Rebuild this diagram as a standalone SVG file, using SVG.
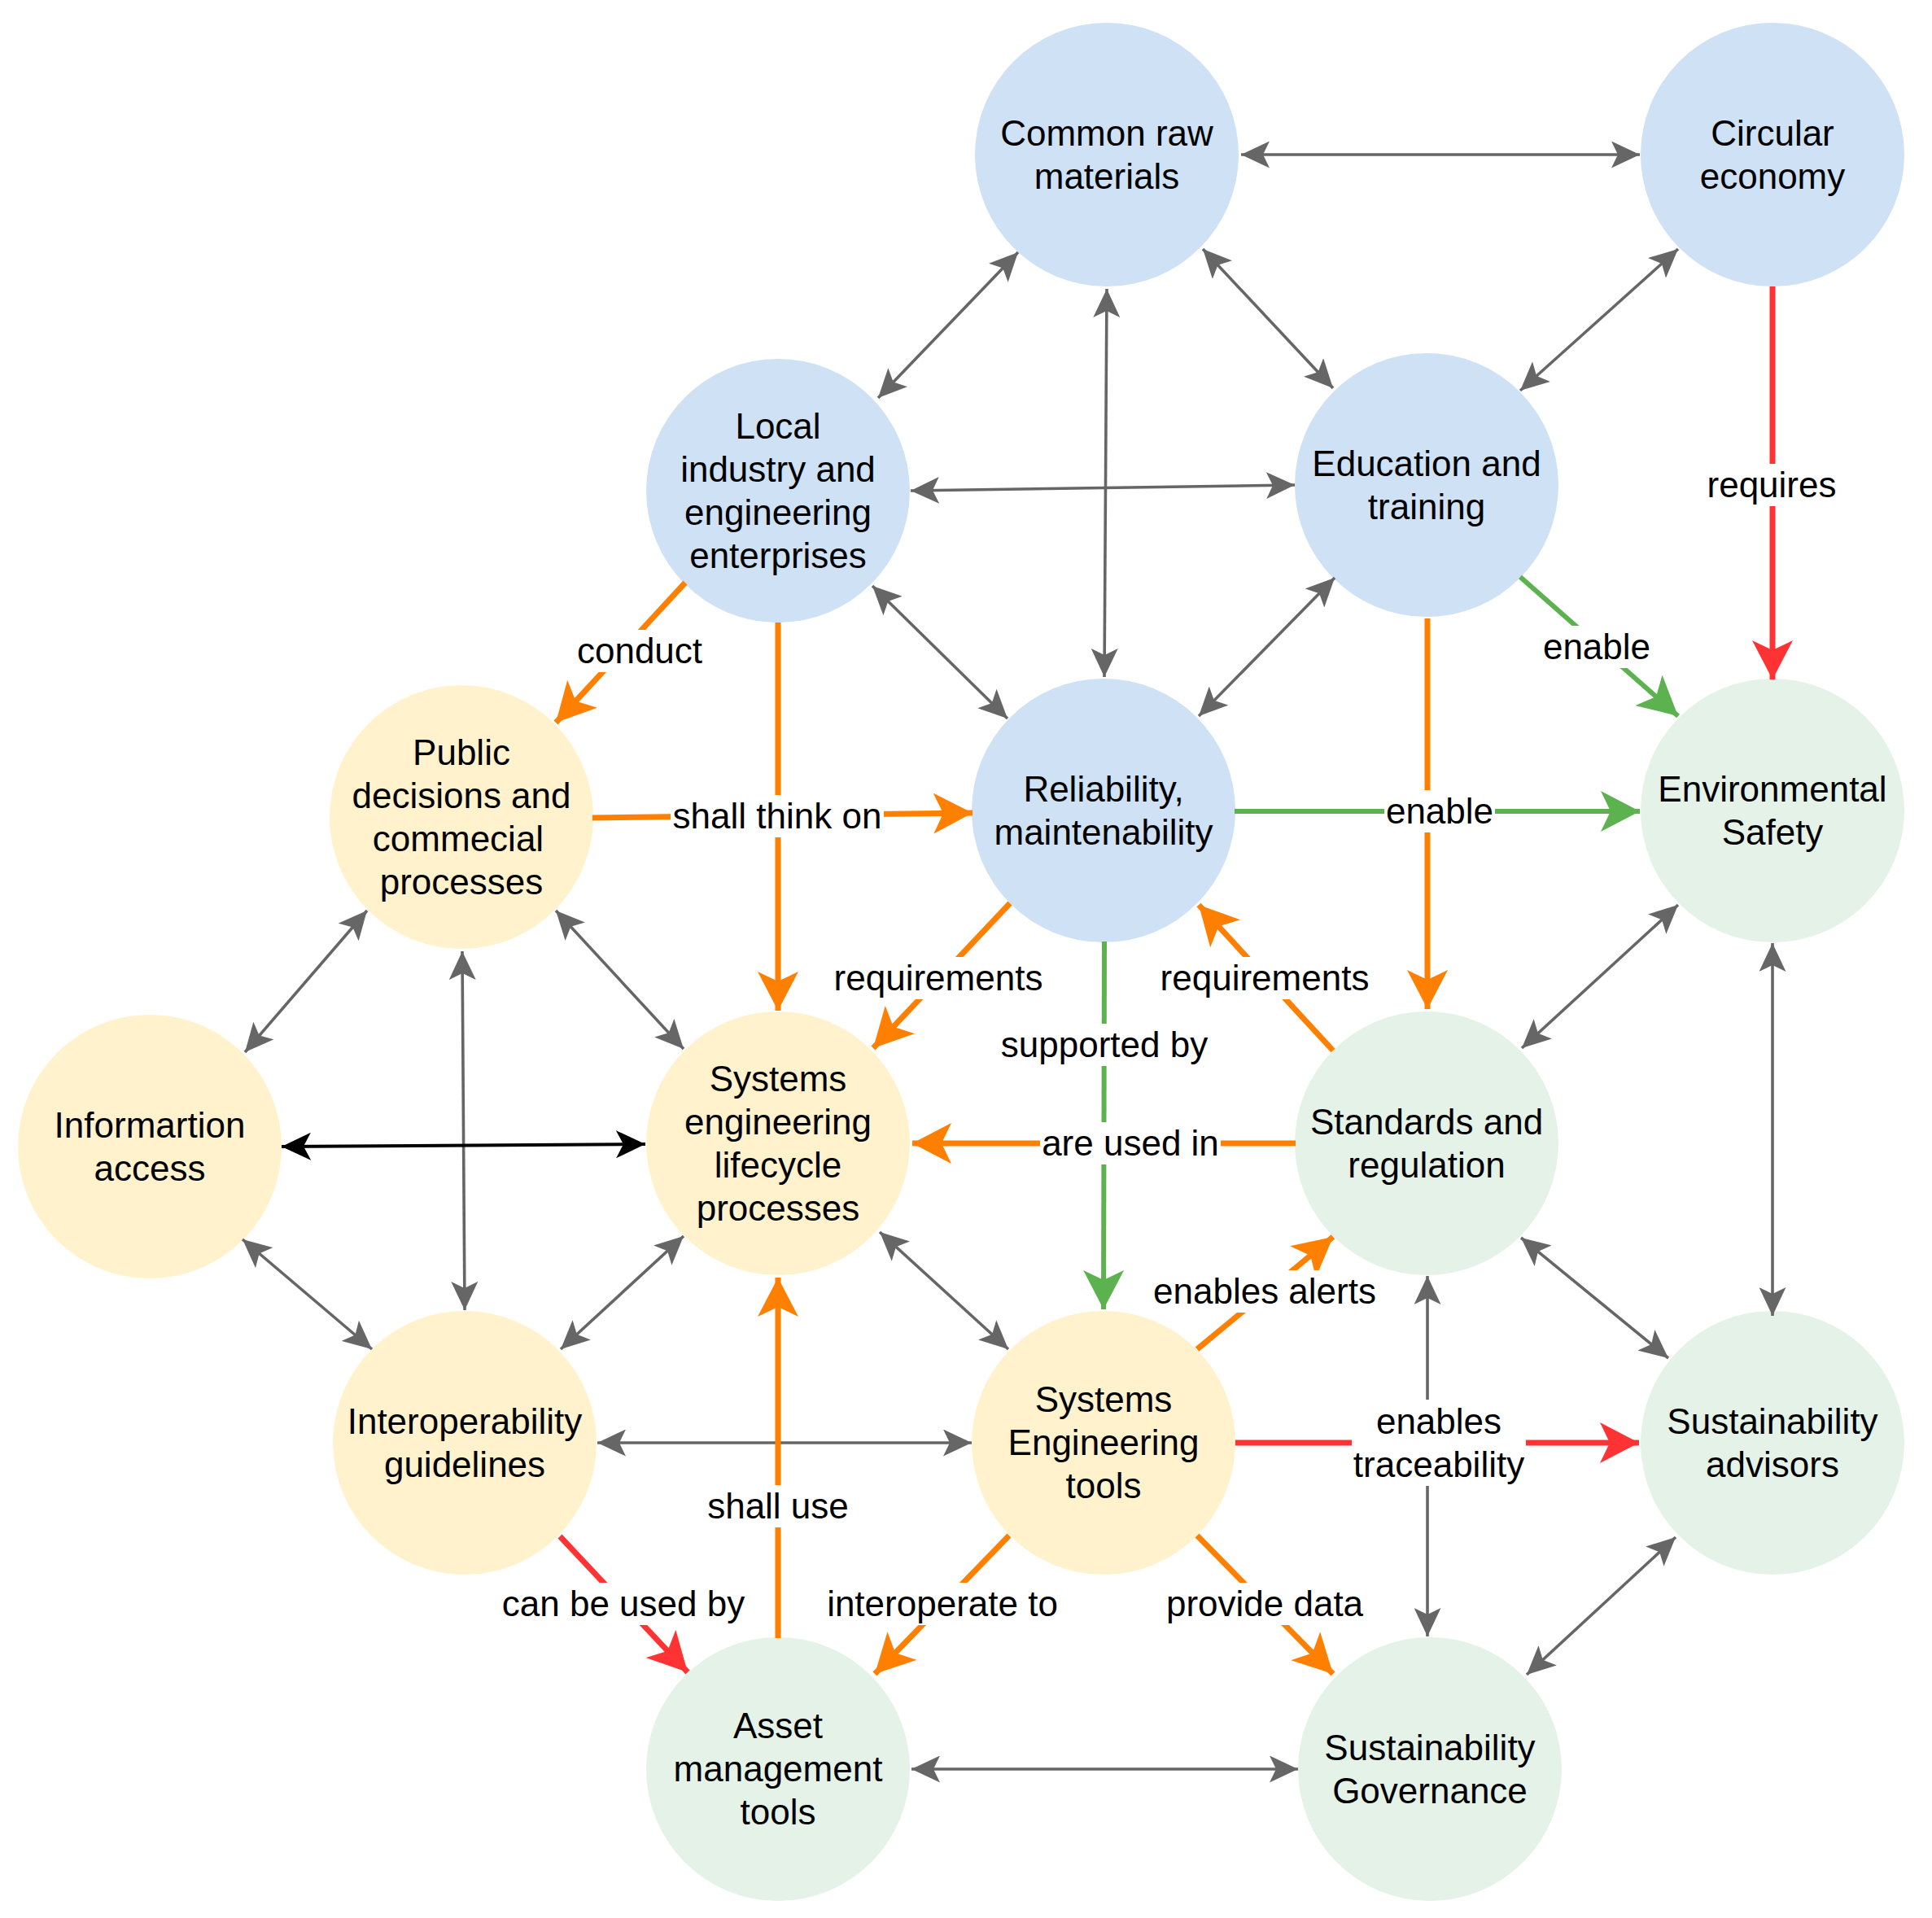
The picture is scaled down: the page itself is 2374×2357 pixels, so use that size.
<svg xmlns="http://www.w3.org/2000/svg" width="2374" height="2357" viewBox="0 0 2374 2357">
<style>
.blue{fill:#cfe1f5}
.yel{fill:#fff2cc}
.grn{fill:#e5f2e7}
text{font-family:"Liberation Sans",Arial,sans-serif;font-size:44px;fill:#000;text-anchor:middle}
.g{stroke:#666666;stroke-width:3.6;fill:none;marker-start:url(#ag);marker-end:url(#ag)}
.k{stroke:#000000;stroke-width:4;fill:none;marker-start:url(#ak);marker-end:url(#ak)}
.o{stroke:#ff8000;stroke-width:7;fill:none;marker-end:url(#ao)}
.r{stroke:#ff3333;stroke-width:7;fill:none;marker-end:url(#ar)}
.gr{stroke:#5db250;stroke-width:6;fill:none;marker-end:url(#agr)}
.lb{fill:#ffffff}
</style>
<defs>
<marker id="ag" viewBox="0 0 35 33" refX="35" refY="16.5" markerWidth="35" markerHeight="33" markerUnits="userSpaceOnUse" orient="auto-start-reverse"><path d="M0,0 L35,16.5 L0,33 L8,16.5 Z" fill="#666666"/></marker>
<marker id="ak" viewBox="0 0 36 34" refX="36" refY="17" markerWidth="36" markerHeight="34" markerUnits="userSpaceOnUse" orient="auto-start-reverse"><path d="M0,0 L36,17 L0,34 L9,17 Z" fill="#000000"/></marker>
<marker id="ao" viewBox="0 0 48 50" refX="48" refY="25" markerWidth="48" markerHeight="50" markerUnits="userSpaceOnUse" orient="auto"><path d="M0,0 L48,25 L0,50 L12,25 Z" fill="#ff8000"/></marker>
<marker id="ar" viewBox="0 0 48 50" refX="48" refY="25" markerWidth="48" markerHeight="50" markerUnits="userSpaceOnUse" orient="auto"><path d="M0,0 L48,25 L0,50 L12,25 Z" fill="#ff3333"/></marker>
<marker id="agr" viewBox="0 0 48 50" refX="48" refY="25" markerWidth="48" markerHeight="50" markerUnits="userSpaceOnUse" orient="auto"><path d="M0,0 L48,25 L0,50 L12,25 Z" fill="#5db250"/></marker>
</defs>
<rect width="2374" height="2357" fill="#ffffff"/>

<g id="nodes">
<g id="n-common-raw"><circle class="blue" cx="1360" cy="190" r="162"/><text x="1360" y="178.5">Common raw</text><text x="1360" y="231.5">materials</text></g>
<g id="n-circular"><circle class="blue" cx="2178" cy="190" r="162"/><text x="2178" y="178.5">Circular</text><text x="2178" y="231.5">economy</text></g>
<g id="n-local"><circle class="blue" cx="956" cy="603" r="162"/><text x="956" y="538.5">Local</text><text x="956" y="591.5">industry and</text><text x="956" y="644.5">engineering</text><text x="956" y="697.5">enterprises</text></g>
<g id="n-education"><circle class="blue" cx="1753" cy="596" r="162"/><text x="1753" y="584.5">Education and</text><text x="1753" y="637.5">training</text></g>
<g id="n-public"><circle class="yel" cx="567" cy="1004" r="162"/><text x="567" y="939.5">Public</text><text x="567" y="992.5">decisions and</text><text x="563" y="1045.5">commecial</text><text x="567" y="1098.5">processes</text></g>
<g id="n-reliability"><circle class="blue" cx="1356" cy="996" r="162"/><text x="1356" y="984.5">Reliability,</text><text x="1356" y="1037.5">maintenability</text></g>
<g id="n-environmental"><circle class="grn" cx="2178" cy="996" r="162"/><text x="2178" y="984.5">Environmental</text><text x="2178" y="1037.5">Safety</text></g>
<g id="n-info"><circle class="yel" cx="184" cy="1409" r="162"/><text x="184" y="1397.5">Informartion</text><text x="184" y="1450.5">access</text></g>
<g id="n-lifecycle"><circle class="yel" cx="956" cy="1405" r="162"/><text x="956" y="1340.5">Systems</text><text x="956" y="1393.5">engineering</text><text x="956" y="1446.5">lifecycle</text><text x="956" y="1499.5">processes</text></g>
<g id="n-standards"><circle class="grn" cx="1753" cy="1405" r="162"/><text x="1753" y="1393.5">Standards and</text><text x="1753" y="1446.5">regulation</text></g>
<g id="n-interop"><circle class="yel" cx="571" cy="1773" r="162"/><text x="571" y="1761.5">Interoperability</text><text x="571" y="1814.5">guidelines</text></g>
<g id="n-setools"><circle class="yel" cx="1356" cy="1773" r="162"/><text x="1356" y="1735">Systems</text><text x="1356" y="1788">Engineering</text><text x="1356" y="1841">tools</text></g>
<g id="n-advisors"><circle class="grn" cx="2178" cy="1773" r="162"/><text x="2178" y="1761.5">Sustainability</text><text x="2178" y="1814.5">advisors</text></g>
<g id="n-asset"><circle class="grn" cx="956" cy="2174" r="162"/><text x="956" y="2136">Asset</text><text x="956" y="2189">management</text><text x="956" y="2242">tools</text></g>
<g id="n-governance"><circle class="grn" cx="1757" cy="2174" r="162"/><text x="1757" y="2162.5">Sustainability</text><text x="1757" y="2215.5">Governance</text></g>
</g>

<g id="connectors">
<path class="g" d="M1525,190 L2015,190"/>
<path class="g" d="M1251,310 L1079,489"/>
<path class="g" d="M1360,355 L1357,832"/>
<path class="g" d="M1478,306 L1638,477"/>
<path class="g" d="M2062,306 L1868,480"/>
<path class="g" d="M1119,603 L1591,596"/>
<path class="g" d="M1072,720 L1238,883"/>
<path class="g" d="M1640,710 L1473,880"/>
<path class="g" d="M2062,1112 L1870,1288"/>
<path class="g" d="M2178,1159 L2178,1617"/>
<path class="g" d="M451,1119 L301,1293"/>
<path class="g" d="M568,1169 L571,1610"/>
<path class="g" d="M683,1119 L840,1289"/>
<path class="g" d="M298,1523 L457,1658"/>
<path class="g" d="M840,1519 L689,1658"/>
<path class="g" d="M734,1773 L1194,1773"/>
<path class="g" d="M1081,1514 L1239,1658"/>
<path class="g" d="M1869,1521 L2050,1669"/>
<path class="g" d="M1754,1568 L1754,2011"/>
<path class="g" d="M2059,1889 L1876,2058"/>
<path class="g" d="M1120,2174 L1595,2174"/>
<path class="k" d="M346,1409 L793,1406"/>

<path class="o" d="M842,716 L683,888"/>
<path class="o" d="M956,765 L956,1242"/>
<path class="o" d="M728,1005 L1195,999"/>
<path class="o" d="M1241,1110 L1073,1288"/>
<path class="o" d="M1638,1291 L1473,1112"/>
<path class="o" d="M1754,760 L1754,1240"/>
<path class="o" d="M1592,1405 L1121,1405"/>
<path class="o" d="M1471,1658 L1638,1520"/>
<path class="o" d="M1240,1887 L1075,2057"/>
<path class="o" d="M1471,1887 L1638,2057"/>
<path class="o" d="M956,2013 L956,1570"/>

<path class="r" d="M2178,352 L2178,835"/>
<path class="r" d="M1518,1773 L2014,1773"/>
<path class="r" d="M688,1888 L845,2055"/>

<path class="gr" d="M1868,709 L2062,880"/>
<path class="gr" d="M1517,997 L2015,997"/>
<path class="gr" d="M1357,1157 L1356,1609"/>

<g id="labels">
<rect class="lb" x="707" y="774" width="158" height="52"/><text x="786" y="815">conduct</text>
<rect class="lb" x="824" y="977" width="262" height="52"/><text x="955" y="1018">shall think on</text>
<rect class="lb" x="1022" y="1176" width="262" height="52"/><text x="1153" y="1217">requirements</text>
<rect class="lb" x="1423" y="1176" width="262" height="52"/><text x="1554" y="1217">requirements</text>
<rect class="lb" x="1894" y="769" width="136" height="52"/><text x="1962" y="810">enable</text>
<rect class="lb" x="1701" y="971" width="136" height="52"/><text x="1769" y="1012">enable</text>
<rect class="lb" x="1228" y="1258" width="258" height="52"/><text x="1357" y="1299">supported by</text>
<rect class="lb" x="1278" y="1379" width="222" height="52"/><text x="1389" y="1420">are used in</text>
<rect class="lb" x="1415" y="1561" width="278" height="52"/><text x="1554" y="1602">enables alerts</text>
<rect class="lb" x="1661" y="1720" width="214" height="106"/><text x="1768" y="1761.5">enables</text><text x="1768" y="1814.5">traceability</text>
<rect class="lb" x="867" y="1825" width="178" height="52"/><text x="956" y="1866">shall use</text>
<rect class="lb" x="615" y="1945" width="302" height="52"/><text x="766" y="1986">can be used by</text>
<rect class="lb" x="1014" y="1945" width="288" height="52"/><text x="1158" y="1986">interoperate to</text>
<rect class="lb" x="1431" y="1945" width="246" height="52"/><text x="1554" y="1986">provide data</text>
<rect class="lb" x="2096" y="570" width="162" height="52"/><text x="2177" y="611">requires</text>
</g>
</g>
</svg>
